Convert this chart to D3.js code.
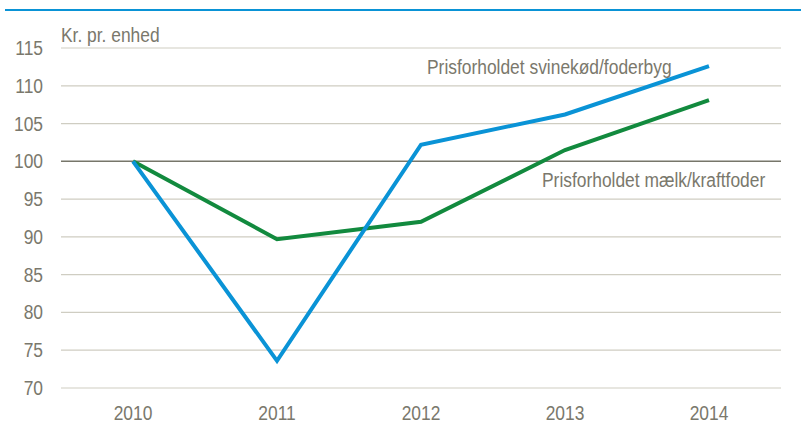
<!DOCTYPE html>
<html>
<head>
<meta charset="utf-8">
<script src="https://cdn.jsdelivr.net/npm/d3@7"></script>
<style>
  body { margin: 0; background: #fff; }
  text { font-family: "Liberation Sans", Arial, sans-serif; fill: #7a786c; font-size: 20px; }
</style>
</head>
<body>
<div id="chart"></div>
<script>
// data
var years = ["2010", "2011", "2012", "2013", "2014"];
var svinekod = [100, 73.6, 102.2, 106.2, 112.6];
var maelk = [100, 89.7, 92.0, 101.5, 108.1];
var yTicks = [70, 75, 80, 85, 90, 95, 100, 105, 110, 115];
var seriesNames = ["Prisforholdet svinekød/foderbyg", "Prisforholdet mælk/kraftfoder"];

var width = 801, height = 432;
var margin = {top: 48, right: 20, bottom: 44, left: 61};
var narrow = 0.87; // squeeze to look like Arial Narrow

var svg = d3.select("#chart")
    .append("svg")
    .attr("width", width)
    .attr("height", height);

function label(px, py) {
    return "translate(" + px + "," + py + ") scale(" + narrow + ",1)";
}

// top rule
svg.append("line")
    .attr("x1", 5).attr("x2", width)
    .attr("y1", 10).attr("y2", 10)
    .attr("stroke", "#0a93d6")
    .attr("stroke-width", 2);

var x = d3.scaleBand()
    .domain(years)
    .range([margin.left, width - margin.right]);

var y = d3.scaleLinear()
    .domain([70, 115])
    .range([height - margin.bottom, margin.top]);

// gridlines
svg.append("g")
    .selectAll("line")
    .data(yTicks)
    .enter()
    .append("line")
    .attr("x1", margin.left)
    .attr("x2", width - margin.right)
    .attr("y1", function(d) { return y(d); })
    .attr("y2", function(d) { return y(d); })
    .attr("stroke", function(d) { return d == 100 ? "#77766a" : "#cfcdc2"; })
    .attr("stroke-width", function(d) { return d == 100 ? 1.5 : 1.2; });

// y labels
svg.append("g")
    .selectAll("text")
    .data(yTicks)
    .enter()
    .append("text")
    .attr("transform", function(d) { return label(43, y(d)); })
    .attr("dy", "0.35em")
    .attr("text-anchor", "end")
    .text(function(d) { return d; });

// x labels
svg.append("g")
    .selectAll("text")
    .data(years)
    .enter()
    .append("text")
    .attr("transform", function(d) { return label(x(d) + x.bandwidth() / 2, 420); })
    .attr("text-anchor", "middle")
    .text(function(d) { return d; });

svg.append("text")
    .attr("transform", label(61, 42))
    .text("Kr. pr. enhed");

var line = d3.line()
    .x(function(d, i) { return x(years[i]) + x.bandwidth() / 2; })
    .y(function(d) { return y(d); });

svg.append("path")
    .datum(maelk)
    .attr("d", line)
    .attr("fill", "none")
    .attr("stroke", "#128a3e")
    .attr("stroke-width", 4);

svg.append("path")
    .datum(svinekod)
    .attr("d", line)
    .attr("fill", "none")
    .attr("stroke", "#0a93d6")
    .attr("stroke-width", 4);

// series labels
svg.append("text")
    .attr("transform", label(427, 74))
    .text(seriesNames[0]);

svg.append("text")
    .attr("transform", label(542, 187))
    .text(seriesNames[1]);
</script>
</body>
</html>
